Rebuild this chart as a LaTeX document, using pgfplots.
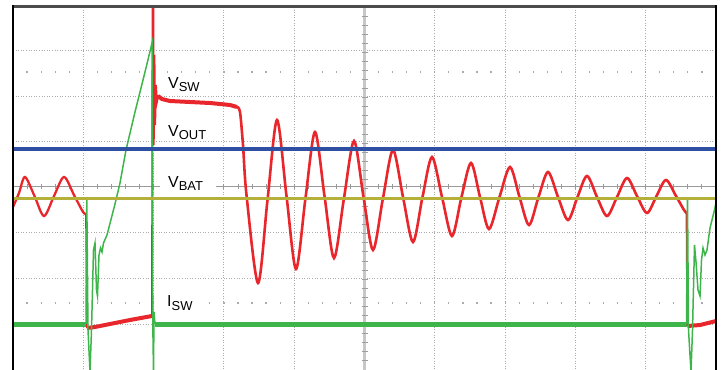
\documentclass[border=0pt]{standalone}
\usepackage{pgfplots}
\usepackage{pgfplotstable}
\pgfplotsset{compat=1.18}
\usepackage{fontspec}
\setmainfont{Liberation Sans}
\definecolor{tred}{HTML}{E8262B}
\definecolor{tgreen}{HTML}{3DB54A}
\definecolor{tgreenlt}{HTML}{86D08C}
\definecolor{tolive}{HTML}{B5B03A}
\definecolor{tblue}{HTML}{2F4FA3}
\definecolor{gridc}{HTML}{ABABAB}

% ---------- V_SW (red) ----------
\pgfplotstableread{
x y
13 207
19 193
25 177
34.5 196
44 216
54 196
64 177
74 195
83 212
86 214
}\redA
\pgfplotstableread{
x y
86 214
86.4 252
87 328
}\redB
\pgfplotstableread{
x y
87 328
95 327
110 324
130 320
152 316
}\redOn
\pgfplotstableread{
x y
152 316
152.5 7
153.4 7
153.8 145
154.5 55
155.2 125
156 85
157 102
158.5 95
}\redSpike
\pgfplotstableread{
x y
158 96
162 99
170 101
190 102
210 103
230 105
237 107
}\redPlat
\pgfplotstableread{
x y
237 107
240 112
243 145
246.5 195
258 283
267.5 200
277 120
286.5 196
296 269
305.5 198
315 132
324.5 196
334 258
344 198
354 141
363.5 197
373 250
383 198
393 150
403 197
413 242
422.5 197
432 157
442 197
452 236
461.5 197
471 163
480 197
489 229
499.5 197
510 167
519.5 197
529 225
538.5 197
548 172
558 197
568 220
577.5 197
587 176
597 197
607 216
617 197
627 178
637 196
647 213
656.5 196
666 180
676 196
684 210
686.5 213
}\redC
\pgfplotstableread{
x y
686.5 213
687 285
687.5 326
}\redD
\pgfplotstableread{
x y
687.5 326
700 325
716 321
}\redEnd

% ---------- I_SW (green) ----------
\pgfplotstableread{
x y
13 324.5
86.5 324.5
}\gBaseA
\pgfplotstableread{
x y
155 324.5
686.5 324.5
}\gBaseB
\pgfplotstableread{
x y
86 324
86.8 200
88 330
90 372
91.5 330
93.5 250
95 243
96.5 290
97.5 296
99 255
100.5 248
102 252
103.5 243
107 235
115 204
120 183
126 150
135 112
145 72
152.3 42
152.8 324
153.5 372
154 312
155 324
}\gTA
\pgfplotstableread{
x y
686.5 324
687.5 198
688.5 330
691 372
692.5 330
694.5 245
696 262
698 290
700 296
701.5 260
703 248
705 255
707 250
710 228
714 212
716 203
}\gTB

% ---------- V_BAT, V_OUT ----------
\pgfplotstableread{
x y
13 198.5
716 198.5
}\vbat
\pgfplotstableread{
x y
13 149
716 149
}\vout

\begin{document}
\begin{tikzpicture}
\useasboundingbox (0,0) rectangle (721bp,370bp);
% background graticule (pixel coordinates, y downward)
\begin{scope}[shift={(0bp,370bp)},x=1bp,y=-1bp]
  \foreach \xx in {83.3,153.6,223.9,294.2,434.8,505.1,575.4,645.7}
    \draw[gridc,line width=0.9bp,dash pattern=on 1bp off 1.6bp] (\xx,7) -- (\xx,370);
  \foreach \yy in {50.5,96,141.5,232.7,278.3,324}
    \draw[gridc,line width=0.9bp,dash pattern=on 1bp off 1.6bp] (13,\yy) -- (716,\yy);
  \foreach \k in {1,...,49}{
    \fill[gridc] ({13+14.06*\k-0.6},71.4) rectangle ++(1.2,1.2);
    \fill[gridc] ({13+14.06*\k-0.6},302.4) rectangle ++(1.2,1.2);
  }
  \draw[black!40,line width=1bp] (13,187) -- (716,187);
  \foreach \k in {1,...,49}
    \draw[black!40,line width=0.9bp] ({13+14.06*\k},184.5) -- ({13+14.06*\k},189.5);
  \draw[black!22,line width=2.6bp] (364.5,7) -- (364.5,370);
  \foreach \k in {1,...,39}
    \draw[black!38,line width=0.9bp] (361.5,{7+9.07*\k}) -- (367.5,{7+9.07*\k});
  \fill[white] (160,174) rectangle (216,193);
  \fill[white] (161,291) rectangle (202,314);
\end{scope}

\begin{axis}[
  at={(0,0)}, anchor=south west,
  scale only axis, width=721bp, height=370bp,
  xmin=0, xmax=721, ymin=0, ymax=370, y dir=reverse,
  axis lines=none, clip=true,
]
\addplot[tgreen, line width=4.6bp] table {\gBaseA};
\addplot[tgreen, line width=4.6bp] table {\gBaseB};
\addplot[tred, line width=2.3bp, smooth, tension=0.5] table {\redA};
\addplot[tred, line width=1.8bp] table {\redB};
\addplot[tred, line width=4bp] table {\redOn};
\addplot[tred, line width=1.8bp] table {\redSpike};
\addplot[tred, line width=4bp] table {\redPlat};
\addplot[tred, line width=2.6bp, smooth, tension=0.5] table {\redC};
\addplot[tred, line width=1.8bp] table {\redD};
\addplot[tred, line width=4bp] table {\redEnd};
\addplot[tgreen, line width=1.5bp] table {\gTA};
\addplot[tgreen, line width=1.5bp] table {\gTB};
\addplot[tolive, line width=2.8bp] table {\vbat};
\addplot[tblue, line width=3.2bp] table {\vout};
\end{axis}

\begin{scope}[shift={(0bp,370bp)},x=1bp,y=-1bp]
  \draw[black!70,line width=2.4bp] (11.7,6.5) -- (717,6.5);
  \draw[black,line width=1.8bp] (12.7,5.5) -- (12.7,370);
  \draw[black,line width=1.8bp] (715.8,5.5) -- (715.8,370);
  \node[anchor=base west,inner sep=0pt] at (168,88.3)
    {\fontsize{16}{17}\selectfont V\raisebox{-3.3bp}{\fontsize{13}{13}\selectfont SW}};
  \node[anchor=base west,inner sep=0pt] at (168,136.7)
    {\fontsize{16}{17}\selectfont V\raisebox{-2.7bp}{\fontsize{13}{13}\selectfont OUT}};
  \node[anchor=base west,inner sep=0pt] at (168,188)
    {\fontsize{16}{17}\selectfont V\raisebox{-2.2bp}{\fontsize{13}{13}\selectfont BAT}};
  \node[anchor=base west,inner sep=0pt] at (167,306.7)
    {\fontsize{16}{17}\selectfont I\raisebox{-4bp}{\fontsize{13}{13}\selectfont SW}};
\end{scope}
\end{tikzpicture}
\end{document}
